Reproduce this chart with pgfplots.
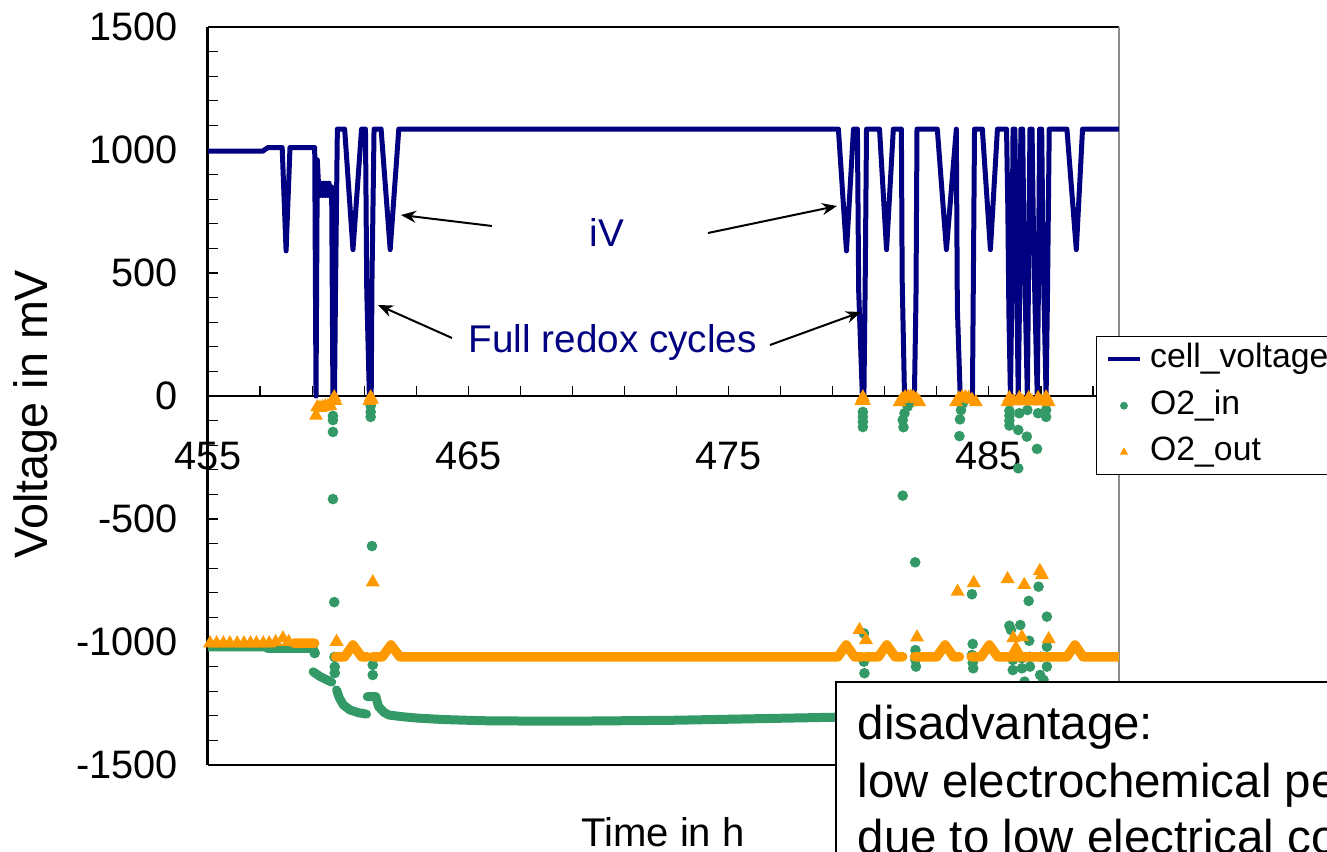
\documentclass[border=0pt]{standalone}
\usepackage{fontspec}
\setmainfont{Liberation Sans}
\usepackage{pgfplots}
\pgfplotsset{compat=1.18}
\usetikzlibrary{arrows.meta}
\definecolor{navyv}{RGB}{0,0,128}
\definecolor{ogreen}{RGB}{51,153,102}
\definecolor{oorange}{RGB}{255,153,0}
\pgfplotsset{
  myline legend/.style={legend image code/.code={\draw[##1] (0cm,0cm) -- (0.32cm,0cm);}},
  mymark legend/.style={legend image code/.code={\draw[##1] plot coordinates {(0.16cm,0cm)};}},
}
\begin{document}
\begin{tikzpicture}
% plot area frame
\draw[black, line width=0.015cm] (2.08,8.24) -- (11.19,8.24);
\draw[black!45, line width=0.015cm] (11.19,8.24) -- (11.19,0.86);
\draw[black, line width=0.025cm] (2.08,0.86) -- (11.19,0.86);
\begin{axis}[
  at={(2.08cm,0.86cm)}, anchor=south west,
  scale only axis, width=9.11cm, height=7.38cm,
  xmin=455, xmax=490, ymin=-1500, ymax=1500,
  axis x line=middle, axis y line=left,
  x axis line style={-, black, line width=0.02cm},
  y axis line style={-, black, line width=0.03cm},
  hide obscured x ticks=false, hide obscured y ticks=false,
  xtick={455,465,475,485}, xticklabels={455,465,475,485},
  minor xtick={457,459,461,463,467,469,471,473,477,479,481,483,487,489},
  ytick={-1500,-1000,-500,0,500,1000,1500},
  yticklabels={-1500,-1000,-500,0,500,1000,1500},
  minor ytick={-1400,-1300,-1200,-1100,-900,-800,-700,-600,-400,-300,-200,-100,100,200,300,400,600,700,800,900,1100,1200,1300,1400},
  tick align=inside,
  major tick length=0.1cm, minor tick length=0.1cm,
  tick style={black, line width=0.012cm},
  xticklabel style={anchor=base, yshift=-0.73cm, font=\fontsize{11.3}{13.5}\selectfont},
  yticklabel style={xshift=-0.18cm, font=\fontsize{11.3}{13.5}\selectfont},
  clip mode=individual,
  unbounded coords=jump,
  legend style={at={(0.9748,0.5813)}, anchor=north west, draw=black, line width=0.4pt, fill=white,
    inner xsep=0.09cm, inner ysep=0.02cm, row sep=0.055cm, column sep=0.06cm,
    font=\fontsize{9.6}{11.5}\selectfont,
    nodes={inner sep=0.02cm, text height=0.27cm, text depth=0.1cm}},
  legend cell align=left,
]
\addlegendimage{navyv, line width=0.045cm, myline legend}
\addlegendentry{cell\_voltage}
\addlegendimage{only marks, mark=*, ogreen, mark size=0.9pt, mymark legend}
\addlegendentry{O2\_in}
\addlegendimage{only marks, mark=triangle*, oorange, mark size=1.0pt, mymark legend}
\addlegendentry{O2\_out}

% cell voltage
\addplot[forget plot, navyv, line width=0.05cm, line join=round] coordinates {
(455,995) (457.1,995) (457.3,1010) (457.85,1010) (458.0,590) (458.15,1010) (459.1,1010) (459.15,0)
(459.2,960) (459.25,850) (459.3,815) (459.35,865) (459.4,815) (459.45,865) (459.5,815) (459.55,865)
(459.6,815) (459.65,865) (459.7,830) (459.75,850) (459.8,0) (459.86,0) (459.9,445) (459.97,1085)
(460.25,1085) (460.57,595) (460.9,1085) (461.05,1085) (461.1,425) (461.2,0) (461.27,0) (461.3,470)
(461.38,1085) (461.65,1085) (462.0,595) (462.33,1085) (479.22,1085) (479.53,590) (479.8,1085)
(479.95,1085) (480.0,425) (480.14,0) (480.2,0) (480.25,466) (480.3,1085) (480.8,1085) (481.07,595)
(481.33,1085) (481.64,1085) (481.67,474) (481.76,0) (482.14,0) (482.2,392) (482.24,1085) (483.02,1085)
(483.37,595) (483.75,1085) (483.79,360) (483.9,0) (484.37,0) (484.4,405) (484.45,1085) (484.75,1085)
(485.06,595) (485.33,1085) (485.68,1085) (485.73,760) (485.77,340) (485.83,0) (485.88,390) (485.93,1085)
(486.0,1085) (486.04,750) (486.08,390) (486.13,0) (486.18,390) (486.23,1085) (486.3,1085) (486.34,715)
(486.4,390) (486.48,0) (486.53,545) (486.58,1085) (486.66,1085) (486.71,700) (486.77,390) (486.86,0)
(486.9,390) (486.95,1085) (487.03,1085) (487.08,620) (487.12,390) (487.2,0) (487.25,390) (487.32,1085)
(488.0,1085) (488.36,595) (488.6,1085) (490,1085)
};

% O2_in dense band
\addplot[forget plot, ogreen, line width=0.09cm, line join=round, line cap=round] coordinates {
(455,-1020) (457.2,-1020) (457.3,-1026) (459.05,-1026) (459.05,nan)
(459.04,-1121) (459.3,-1140) (459.55,-1153) (459.75,-1163) (459.8,nan)
(459.94,-1195) (460.05,-1228) (460.2,-1256) (460.45,-1276) (460.8,-1288) (461.09,-1293) (461.1,nan)
(461.12,-1222) (461.45,-1222) (461.55,-1262) (461.75,-1285) (461.95,-1297) (462.5,-1304) (463,-1309)
(464,-1315) (465.5,-1320) (468,-1322) (470,-1321) (473,-1318) (476,-1312) (479.5,-1305) (482,-1302)
};
% O2_in scattered samples
\addplot[forget plot, only marks, mark=*, ogreen, mark size=1.3pt] coordinates {
(459.1,-1045)
(459.8,-81) (459.8,-98) (459.8,-146) (459.8,-419) (459.85,-838) (459.86,-1061) (459.87,-1101) (459.87,-1126)
(461.25,-16) (461.25,-40) (461.25,-65) (461.25,-85) (461.3,-610) (461.33,-1093) (461.33,-1134)
(480.16,-65) (480.16,-85) (480.16,-105) (480.16,-126)
(480.2,-965) (480.2,-1080) (480.22,-1127)
(482.08,-23) (481.88,-43) (481.76,-70) (481.69,-98) (481.72,-127) (481.69,-405) (482.17,-676)
(482.18,-1033) (482.18,-1073) (482.2,-1100)
(484.0,-30) (483.93,-57) (483.89,-95) (483.87,-163)
(484.35,-806) (484.38,-1008) (484.35,-1053) (484.38,-1084) (484.4,-1107)
(485.79,-60) (485.79,-80) (485.79,-100) (485.79,-120) (486.13,-138) (486.13,-294) (486.17,-70)
(486.46,-165) (486.48,-57) (486.85,-215) (486.89,-70) (487.2,-57) (487.2,-85)
(486.91,-775) (486.53,-833) (487.23,-897) (485.79,-934) (485.85,-951) (486.21,-931) (486.55,-995)
(487.23,-1019) (485.92,-1073) (486.27,-1066) (486.58,-1060) (487.0,-1060) (485.92,-1114) (486.27,-1107)
(486.58,-1100) (487.23,-1100) (486.97,-1134) (486.37,-1161) (487.1,-1154)
};

% O2_out dense band
\addplot[forget plot, oorange, line width=0.095cm, line join=round, line cap=round] coordinates {
(458.3,-1005) (459.1,-1005) (459.1,nan)
(459.9,-1060) (460.25,-1060) (460.57,-1012) (460.9,-1060) (461.12,-1060) (461.15,nan)
(461.32,-1060) (461.7,-1060) (462.03,-1012) (462.37,-1060) (479.2,-1060) (479.52,-1012) (479.84,-1060) (480.14,-1060) (480.2,nan)
(480.28,-1060) (480.76,-1060) (481.08,-1012) (481.4,-1060) (481.69,-1060) (481.9,nan)
(482.14,-1060) (483.0,-1060) (483.32,-1012) (483.64,-1060) (483.87,-1060) (484.1,nan)
(484.32,-1060) (484.7,-1060) (485.02,-1012) (485.34,-1060) (488.0,-1060) (488.31,-1012) (488.62,-1060) (490,-1060)
};
% O2_out scattered samples
\addplot[forget plot, only marks, mark=triangle*, oorange, mark size=1.9pt] coordinates {
(455.08,-1005) (455.33,-1005) (455.59,-1005) (455.84,-1005) (456.12,-1005) (456.38,-1005) (456.63,-1005)
(456.86,-1005) (457.12,-1005) (457.35,-1005) (457.6,-1000) (457.88,-985) (458.1,-1000)
(459.15,-80) (459.2,-45) (459.3,-48) (459.4,-45) (459.5,-42) (459.6,-42) (459.7,-40) (459.78,-20) (459.85,-5) (459.9,-20)
(459.94,-999)
(461.2,-20) (461.25,-5) (461.3,-15) (461.33,-757)
(480.1,-20) (480.16,-5) (480.2,-20)
(481.57,-25) (481.67,-12) (481.78,-5) (481.9,-3) (482.0,-3) (482.1,-5) (482.22,-12) (482.33,-25)
(483.74,-25) (483.85,-10) (483.97,-5) (484.1,-5) (484.22,-8) (484.35,-15) (484.5,-25)
(485.72,-25) (485.79,-8) (485.95,-20) (486.17,-8) (486.3,-22) (486.53,-8) (486.65,-22) (486.89,-8) (487.0,-22) (487.2,-5) (487.3,-25)
(480.03,-951) (480.28,-992) (482.24,-981) (483.8,-795) (484.42,-760)
(485.72,-744) (486.36,-768) (486.96,-711) (487.04,-728) (485.94,-984) (486.27,-980) (487.3,-988) (486.04,-1024)
};
\end{axis}

% axis titles
\node[rotate=90, anchor=base, inner sep=0, font=\fontsize{13.3}{16}\selectfont] at (0.47,4.37) {Voltage in mV};
\node[anchor=base, inner sep=0, font=\fontsize{11.4}{13.7}\selectfont] at (6.63,0.04) {Time in h};

% annotations
\node[anchor=base, inner sep=0, text=navyv, font=\fontsize{11}{13.2}\selectfont] at (6.07,6.04) {iV};
\node[anchor=base west, inner sep=0, text=navyv, font=\fontsize{11}{13.2}\selectfont] at (4.68,4.98) {Full redox cycles};
\begin{scope}[line width=0.02cm, -{Stealth[length=0.15cm,width=0.12cm]}]
\draw (4.92,6.25) -- (4.01,6.36);
\draw (7.08,6.18) -- (8.37,6.45);
\draw (4.52,5.13) -- (3.78,5.46);
\draw (7.70,5.06) -- (8.61,5.39);
\end{scope}

% text box
\fill[white] (8.36,1.69) rectangle (13.6,-0.3);
\draw[black, line width=0.025cm] (8.36,-0.3) -- (8.36,1.69) -- (13.6,1.69);
\begin{scope}[every node/.style={anchor=base west, inner sep=0, font=\fontsize{13.5}{16}\selectfont}]
\node at (8.57,1.12) {disadvantage:};
\node at (8.57,0.54) {low electrochemical performance};
\node at (8.57,-0.03) {due to low electrical conductivity};
\end{scope}

\pgfresetboundingbox
\useasboundingbox (0,0) rectangle (13.27,8.51);
\end{tikzpicture}
\end{document}
